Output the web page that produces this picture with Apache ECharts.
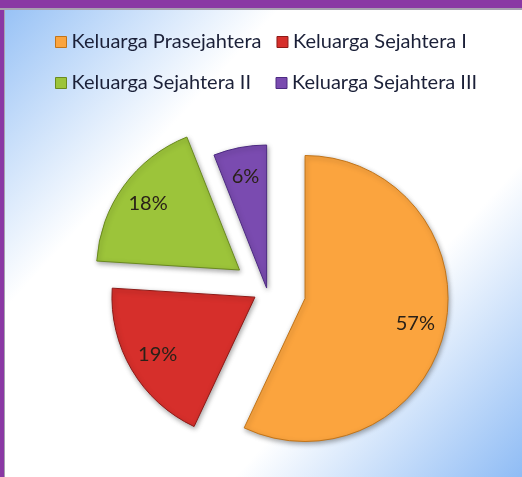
<!DOCTYPE html>
<html>
<head>
<meta charset="utf-8">
<script src="https://cdn.jsdelivr.net/npm/echarts@6/dist/echarts.min.js"></script>
<style>
  html, body { margin: 0; padding: 0; background: #fff; }
  #wrap { position: relative; width: 522px; height: 477px; overflow: hidden; }
  #chart { position: absolute; left: 0; top: 0; width: 522px; height: 477px; }
  .frame { position: absolute; background: #8a38a4; pointer-events: none; }
  #ftop { left: 0; top: 0; width: 522px; height: 8px; border-bottom: 2px solid #a8a0b0; }
  #fleft { left: 0; top: 0; width: 4px; height: 477px; border-right: 1px solid #a8a0b0; }
</style>
</head>
<body>
<div id="wrap">
  <div id="chart"></div>
  <div class="frame" id="fleft"></div>
  <div class="frame" id="ftop"></div>
</div>
<script>
// ---- data ----
const categories = ['Keluarga Prasejahtera', 'Keluarga Sejahtera I', 'Keluarga Sejahtera II', 'Keluarga Sejahtera III'];
const values = [57, 19, 18, 6];

// ---- styling ----
const colors = ['#fba43e', '#d62f2b', '#9cc43a', '#7a4bb0'];
const borderColors = ['#c27418', '#8e1a17', '#6a8a1f', '#4c2a82'];
const explode = [39, 14, 34, 2];   // per-slice explosion distance (px)
const pieCenter = [267, 290];
const pieRadius = 143;
const labelInner = 77;

const chart = echarts.init(document.getElementById('chart'), null, { renderer: 'canvas' });

const series = [];
categories.forEach(function (cat, k) {
  // slice layer: only slice k visible
  series.push({
    type: 'pie',
    center: pieCenter,
    radius: [0, pieRadius],
    startAngle: 90,
    clockwise: true,
    selectedMode: 'multiple',
    selectedOffset: explode[k],
    silent: true,
    animation: false,
    label: { show: false },
    labelLine: { show: false },
    emphasis: { disabled: true },
    data: categories.map(function (n, i) {
      return {
        name: n,
        value: values[i],
        selected: i === k,
        itemStyle: i === k ? {
          color: colors[i],
          borderColor: borderColors[i],
          borderWidth: 1,
          shadowBlur: 5,
          shadowOffsetX: 1,
          shadowOffsetY: 2,
          shadowColor: 'rgba(0,0,0,0.35)'
        } : { color: 'rgba(0,0,0,0)', borderWidth: 0 }
      };
    })
  });
  // label layer: ring so that "inside" labels sit further out
  series.push({
    type: 'pie',
    center: pieCenter,
    radius: [labelInner, pieRadius],
    startAngle: 90,
    clockwise: true,
    selectedMode: 'multiple',
    selectedOffset: explode[k],
    silent: true,
    animation: false,
    labelLine: { show: false },
    emphasis: { disabled: true },
    itemStyle: { color: 'rgba(0,0,0,0)', borderWidth: 0 },
    data: categories.map(function (n, i) {
      return {
        name: n,
        value: values[i],
        selected: i === k,
        label: {
          show: i === k,
          position: 'inside',
          formatter: '{d}%',
          color: '#2a2118',
          fontFamily: 'Lato',
          fontSize: 20
        }
      };
    })
  });
});

chart.setOption({
  backgroundColor: {
    type: 'linear', x: 0, y: 0, x2: 1, y2: 1,
    colorStops: [
      { offset: 0, color: '#93bff5' },
      { offset: 0.3, color: '#ffffff' },
      { offset: 0.7, color: '#ffffff' },
      { offset: 1, color: '#8fbcf5' }
    ]
  },
  legend: {
    left: 55,
    top: 29,
    width: 460,
    padding: 0,
    itemGap: 15,
    itemWidth: 11,
    itemHeight: 11,
    icon: 'rect',
    selectedMode: false,
    textStyle: {
      color: '#1b2038',
      fontFamily: 'Lato',
      fontSize: 20,
      lineHeight: 26,
      width: 189,
      overflow: 'none'
    },
    data: categories.map(function (n, i) {
      return { name: n, itemStyle: { color: colors[i], borderColor: borderColors[i], borderWidth: 1, opacity: 1 } };
    })
  },
  series: series
});
</script>
</body>
</html>
